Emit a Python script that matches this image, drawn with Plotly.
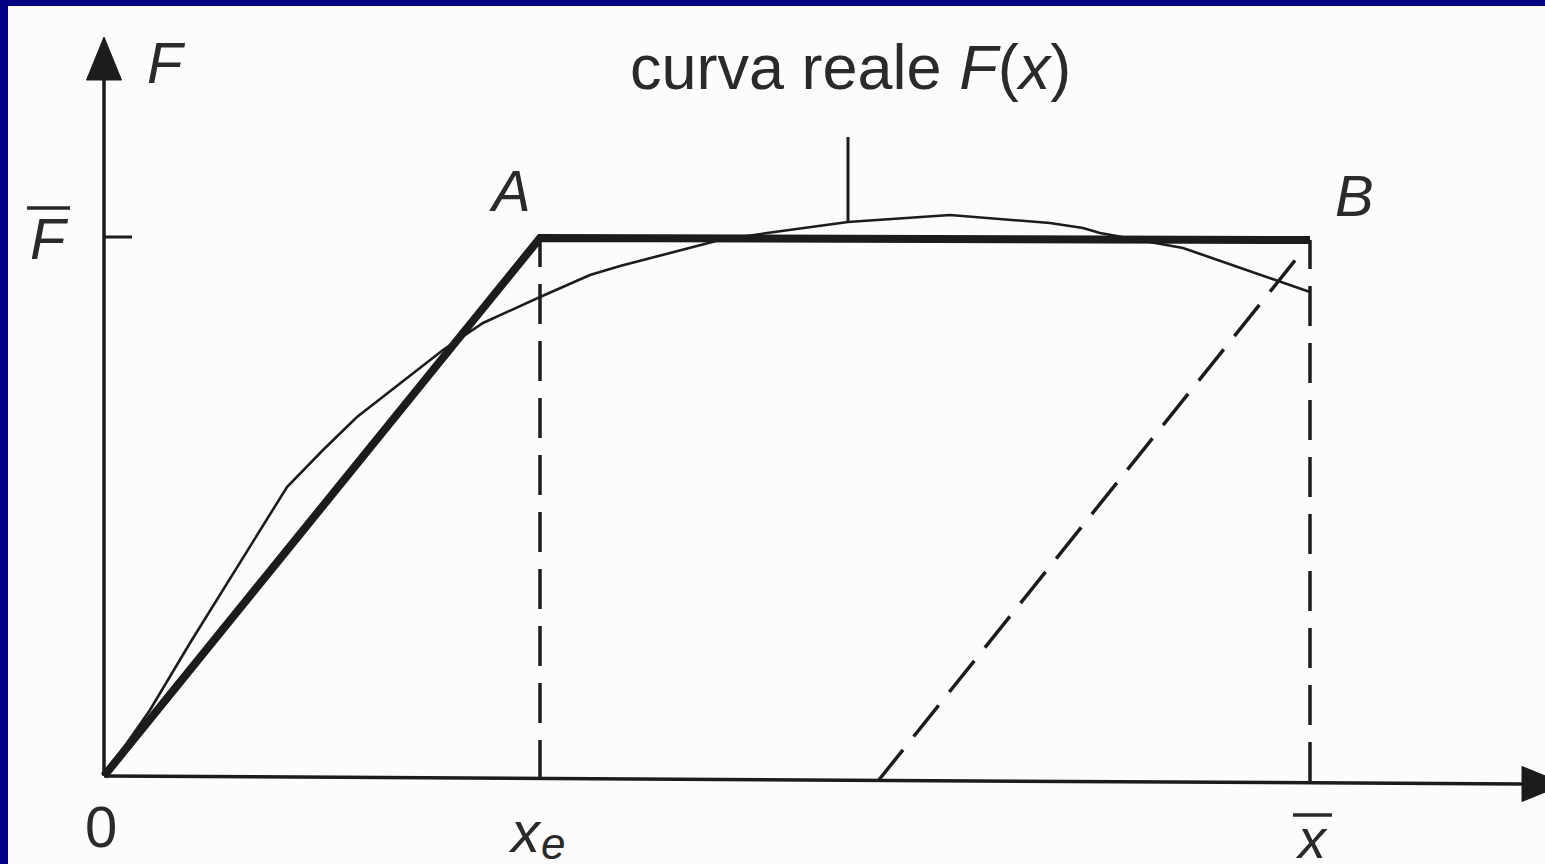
import plotly.graph_objects as go

# ---- data (units; origin O at 0,0) ----
x_e = 436          # elastic limit displacement
x_bar = 1206       # ultimate displacement
F_bar = 538        # plateau force
F_bar_B = 536      # plateau force at B

# idealised bilinear curve O-A-B
ideal_x = [0, x_e, x_bar]
ideal_y = [0, F_bar, F_bar_B]

# real curve F(x)
curve_x = [0, 46, 86, 136, 183, 219, 253, 339, 379, 436, 486, 516, 616, 663,
           744, 846, 946, 979, 996, 1079, 1206]
curve_y = [0, 66, 133, 213, 289, 326, 359, 426, 453, 479, 501, 510, 536, 543,
           554, 561, 553, 548, 543, 528, 484]

# unloading (dashed) line
unload_x = [774, 1201]
unload_y = [-5, 528]

# dashed verticals
vert_e_x, vert_e_y = [x_e, x_e], [-4, F_bar]
vert_b_x, vert_b_y = [x_bar, x_bar], [-6, F_bar_B]

# axes
yaxis_top = 696
xaxis_end = 1418
xaxis_end_y = -8
arrow_len = 43
arrow_half = 17.5

# label pointer
pointer_x = [744, 744]
pointer_y = [554, 639]

LINE = "#1c1c1c"
TXT = "#2a2a2a"
FONT = "Liberation Sans"

fig = go.Figure()

# axes lines
fig.add_trace(go.Scatter(x=[0, 0], y=[0, yaxis_top], mode="lines",
                         line=dict(color=LINE, width=3.5)))
fig.add_trace(go.Scatter(x=[0, xaxis_end], y=[0, xaxis_end_y], mode="lines",
                         line=dict(color=LINE, width=3.5)))
# arrowheads
fig.add_trace(go.Scatter(x=[-arrow_half, arrow_half, 0, -arrow_half],
                         y=[yaxis_top, yaxis_top, yaxis_top + arrow_len, yaxis_top],
                         mode="lines", fill="toself", fillcolor=LINE,
                         line=dict(color=LINE, width=1)))
fig.add_trace(go.Scatter(x=[xaxis_end, xaxis_end, xaxis_end + arrow_len, xaxis_end],
                         y=[xaxis_end_y - arrow_half, xaxis_end_y + arrow_half,
                            xaxis_end_y, xaxis_end_y - arrow_half],
                         mode="lines", fill="toself", fillcolor=LINE,
                         line=dict(color=LINE, width=1)))

# F bar tick on y axis
fig.add_trace(go.Scatter(x=[0, 28], y=[539, 539], mode="lines",
                         line=dict(color=LINE, width=3)))

# dashed lines
dash = "40px,17px"
for xs, ys in [(vert_e_x, vert_e_y), (vert_b_x, vert_b_y), (unload_x, unload_y)]:
    fig.add_trace(go.Scatter(x=xs, y=ys, mode="lines",
                             line=dict(color=LINE, width=3.5, dash=dash)))

# real curve
fig.add_trace(go.Scatter(x=curve_x, y=curve_y, mode="lines",
                         line=dict(color=LINE, width=2.6)))
# idealised curve
fig.add_trace(go.Scatter(x=ideal_x, y=ideal_y, mode="lines",
                         line=dict(color=LINE, width=8)))
# pointer
fig.add_trace(go.Scatter(x=pointer_x, y=pointer_y, mode="lines",
                         line=dict(color=LINE, width=3)))

# overbars for F and x
fig.add_trace(go.Scatter(x=[-77, -34], y=[568, 568], mode="lines",
                         line=dict(color=TXT, width=3.5)))
fig.add_trace(go.Scatter(x=[1189, 1228], y=[-39, -39], mode="lines",
                         line=dict(color=TXT, width=3.5)))

def ann(x, y, text, size=58):
    fig.add_annotation(x=x, y=y, text=text, showarrow=False,
                       xanchor="center", yanchor="middle",
                       font=dict(family=FONT, size=size, color=TXT))

ann(62, 714, "<i>F</i>")
ann(-55, 538, "<i>F</i>")
ann(406, 586, "<i>A</i>")
ann(1250, 581, "<i>B</i>")
ann(-3, -50, "0")
ann(421, -55, "<i>x</i>")
ann(449, -67, "<i>e</i>", size=44)
ann(1207, -62, "<i>x</i>", size=56)
ann(746, 709, "curva reale <i>F</i>(<i>x</i>)", size=63)

# navy frame (top and left)
fig.add_shape(type="rect", xref="paper", yref="paper", x0=0, x1=1, y0=1 - 6 / 864, y1=1,
              fillcolor="#000080", line=dict(width=0), layer="above")
fig.add_shape(type="rect", xref="paper", yref="paper", x0=0, x1=8 / 1545, y0=0, y1=1,
              fillcolor="#000080", line=dict(width=0), layer="above")

fig.update_layout(
    width=1545, height=864,
    margin=dict(l=0, r=0, t=0, b=0),
    paper_bgcolor="#fcfcfc", plot_bgcolor="#fcfcfc",
    showlegend=False,
    xaxis=dict(range=[-104, 1441], visible=False, fixedrange=True),
    yaxis=dict(range=[-88, 776], visible=False, fixedrange=True),
)

fig.write_html("out.html", config={"displayModeBar": False},
               post_script="document.body.style.margin='0';document.body.style.overflow='hidden';")
